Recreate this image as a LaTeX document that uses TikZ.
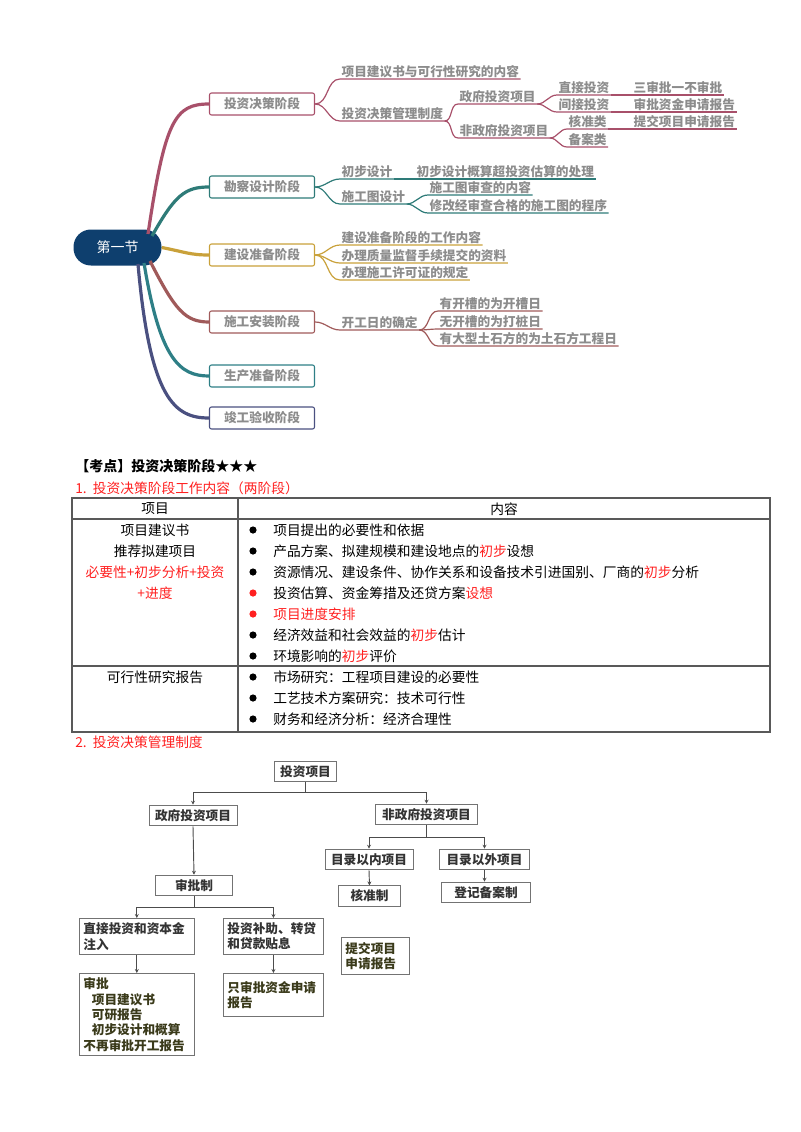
\documentclass[tikz,border=0pt]{standalone}
\usepackage{fontspec}
\setmainfont{Noto Sans CJK SC}
\usetikzlibrary{arrows.meta}
\definecolor{cA}{HTML}{A8506A}
\definecolor{cB}{HTML}{2E7B78}
\definecolor{cC}{HTML}{C9A13A}
\definecolor{cD}{HTML}{A05A5A}
\definecolor{cE}{HTML}{2E7F86}
\definecolor{cF}{HTML}{4A5080}
\definecolor{root}{HTML}{0E3F6E}
\definecolor{gt}{HTML}{8C8C8C}
\definecolor{rd}{HTML}{FF2020}
\definecolor{ol}{HTML}{3A3A1A}
\newcommand{\mmf}{\fontsize{9.5}{11}\selectfont\bfseries}
\newcommand{\tbf}{\fontsize{10.3}{12}\selectfont}
\begin{document}
\begin{tikzpicture}[x=0.75pt,y=-0.75pt,
 stage/.style={draw=#1,fill=white,rounded corners=1.5pt,minimum width=78.75pt,minimum height=16.5pt,font=\mmf,text=gt,line width=0.8pt},
 leaf/.style={font=\mmf,text=gt,inner sep=1pt,anchor=south west},
 br/.style={draw=#1,line width=0.9pt},
 main/.style={draw=#1,line width=2.4pt},
 fb/.style={draw=black!55,fill=white,font=\fontsize{9.5}{11.5}\selectfont\bfseries,text=black!80,line width=0.7pt,inner sep=3pt},
 fl/.style={fb,align=left,anchor=north west,text width=#1,minimum height=27pt},
 ar/.style={draw=black!70,line width=0.7pt,-{Stealth[length=3pt,width=3pt]}},
 tl/.style={font=\tbf,anchor=west,inner sep=0pt}]
\path[use as bounding box] (0,0) rectangle (800,1132);
% ---------- mind map ----------
\node[fill=root,rounded corners=13pt,minimum width=66pt,minimum height=27pt,inner sep=0pt,text=white,font=\fontsize{10.5}{12}\selectfont] (r) at (117.5,247.5) {第一节};
\node[stage=cA] (b1) at (262,104) {投资决策阶段};
\node[stage=cB] (b2) at (262,187) {勘察设计阶段};
\node[stage=cC] (b3) at (262,255) {建设准备阶段};
\node[stage=cD] (b4) at (262,322) {施工安装阶段};
\node[stage=cE] (b5) at (262,376) {生产准备阶段};
\node[stage=cF] (b6) at (262,418) {竣工验收阶段};
\draw[main=cA] (148,234) .. controls (165,120) and (175,104) .. (b1.west);
\draw[main=cB] (152,236) .. controls (175,195) and (185,187) .. (b2.west);
\draw[main=cC] (r.east) .. controls (185,252) and (190,255) .. (b3.west);
\draw[main=cD] (150,261) .. controls (175,310) and (185,322) .. (b4.west);
\draw[main=cE] (144,263) .. controls (160,360) and (180,376) .. (b5.west);
\draw[main=cF] (138,264) .. controls (150,400) and (175,418) .. (b6.west);
% branch 1
\node[leaf] (n11) at (340,79) {项目建议书与可行性研究的内容};
\node[leaf] (n12) at (340,121) {投资决策管理制度};
\node[leaf] (n121) at (458,104) {政府投资项目};
\node[leaf] (n122) at (458,138) {非政府投资项目};
\node[leaf] (n1) at (557,95) {直接投资};
\node[leaf] (n1x) at (632,95) {三审批一不审批};
\node[leaf] (n2) at (557,112) {间接投资};
\node[leaf] (n2x) at (632,112) {审批资金申请报告};
\node[leaf] (n3) at (567,129) {核准类};
\node[leaf] (n3x) at (632,129) {提交项目申请报告};
\node[leaf] (n4) at (567,147) {备案类};
\foreach \a/\b in {b1.east/n11,b1.east/n12,n12.south east/n121,n12.south east/n122,n121.south east/n1,n121.south east/n2,n122.south east/n3,n122.south east/n4}
  \draw[br=cA] (\a) to[out=0,in=180] (\b.south west) -- (\b.south east);
\foreach \a/\b in {n1/n1x,n2/n2x,n3/n3x}
  \draw[br=cA] (\a.south east) -- (\b.south west) -- (\b.south east);
% branch 2
\node[leaf] (m1) at (340,179) {初步设计};
\node[leaf] (m1x) at (415,179) {初步设计概算超投资估算的处理};
\node[leaf] (m2) at (340,204) {施工图设计};
\node[leaf] (m21) at (428,195) {施工图审查的内容};
\node[leaf] (m22) at (428,213) {修改经审查合格的施工图的程序};
\foreach \a/\b in {b2.east/m1,b2.east/m2,m2.south east/m21,m2.south east/m22}
  \draw[br=cB] (\a) to[out=0,in=180] (\b.south west) -- (\b.south east);
\draw[br=cB] (m1.south east) -- (m1x.south west) -- (m1x.south east);
% branch 3
\node[leaf] (k1) at (340,245) {建设准备阶段的工作内容};
\node[leaf] (k2) at (340,263) {办理质量监督手续提交的资料};
\node[leaf] (k3) at (340,280) {办理施工许可证的规定};
\foreach \b in {k1,k2,k3}
  \draw[br=cC] (b3.east) to[out=0,in=180] (\b.south west) -- (\b.south east);
% branch 4
\node[leaf] (j) at (340,330) {开工日的确定};
\node[leaf] (j1) at (438,311) {有开槽的为开槽日};
\node[leaf] (j2) at (438,329) {无开槽的为打桩日};
\node[leaf] (j3) at (438,346) {有大型土石方的为土石方工程日};
\draw[br=cD] (b4.east) to[out=0,in=180] (j.south west) -- (j.south east);
\foreach \b in {j1,j2,j3}
  \draw[br=cD] (j.south east) to[out=0,in=180] (\b.south west) -- (\b.south east);
% ---------- headings ----------
\node[anchor=west,inner sep=0pt,font=\fontsize{10.5}{12}\selectfont\bfseries] (h1) at (75,466) {【考点】投资决策阶段★★★};
\node[anchor=west,inner sep=0pt,font=\tbf,text=rd] (h2) at (75,488) {1.\ \ 投资决策阶段工作内容（两阶段）};
% ---------- table ----------
\draw[black!65,line width=0.8pt] (72,498) rectangle (770,732);
\draw[black!65,line width=0.8pt] (72,519) -- (770,519) (72,666) -- (770,666) (238,498) -- (238,732);
\node[font=\tbf] (t0) at (155,509) {项目};
\node[font=\tbf] (t1) at (504,509) {内容};
\node[font=\tbf] (l1) at (155,530) {项目建议书};
\node[font=\tbf] (l2) at (155,551) {推荐拟建项目};
\node[font=\tbf,text=rd] (l3) at (155,572) {必要性+初步分析+投资};
\node[font=\tbf,text=rd] (l4) at (155,593) {+进度};
\node[font=\tbf] (l5) at (155,677) {可行性研究报告};
\foreach \y/\c/\t [count=\i] in {
 530/black/{项目提出的必要性和依据},
 551/black/{产品方案、拟建规模和建设地点的\textcolor{rd}{初步}设想},
 572/black/{资源情况、建设条件、协作关系和设备技术引进国别、厂商的\textcolor{rd}{初步}分析},
 593/rd/{投资估算、资金筹措及还贷方案\textcolor{rd}{设想}},
 614/rd/{\textcolor{rd}{项目进度安排}},
 635/black/{经济效益和社会效益的\textcolor{rd}{初步}估计},
 656/black/{环境影响的\textcolor{rd}{初步}评价},
 677/black/{市场研究：工程项目建设的必要性},
 698/black/{工艺技术方案研究：技术可行性},
 719/black/{财务和经济分析：经济合理性}}
{
 \fill[\c] (253,\y) circle (3.6);
 \node[tl] (r\i) at (273,\y) {\t};
}
\node[anchor=west,inner sep=0pt,font=\tbf,text=rd] (h3) at (75,742) {2.\ \ 投资决策管理制度};
% ---------- flowchart ----------
\node[fb,minimum width=47pt,minimum height=15.5pt] (f0) at (305.5,771.5) {投资项目};
\node[fb,minimum width=66pt,minimum height=15.5pt] (f1) at (193,815.5) {政府投资项目};
\node[fb,minimum width=76pt,minimum height=15.5pt] (f2) at (426.5,814.5) {非政府投资项目};
\node[fb,minimum width=66pt,minimum height=15.5pt] (f21) at (369,859.5) {目录以内项目};
\node[fb,minimum width=67pt,minimum height=15.5pt] (f22) at (484.5,859.5) {目录以外项目};
\node[fb,minimum width=46pt,minimum height=15pt] (f211) at (369.5,896) {核准制};
\node[fb,minimum width=67pt,minimum height=15.5pt] (f221) at (486,892.5) {登记备案制};
\node[fb,minimum width=58pt,minimum height=15.5pt] (f11) at (194,885.5) {审批制};
\node[fl=80pt] (f111) at (79,918) {直接投资和资本金\\注入};
\node[fl=69pt] (f112) at (223,918) {投资补助、转贷\\和贷款贴息};
\node[fl=80pt,text=ol,minimum height=61.5pt] (f1111) at (79,973) {审批\\\ \ 项目建议书\\\ \ 可研报告\\\ \ 初步设计和概算\\不再审批开工报告};
\node[fl=69pt,text=ol,minimum height=32pt] (f1121) at (223,973) {只审批资金申请\\报告};
\node[fl=45pt,text=ol,minimum height=27.5pt] (f3) at (341,937) {提交项目\\申请报告};
\draw[ar] (f0.south) -- ++(0,10) -| (f1.north);
\draw[ar] (f0.south) -- ++(0,10) -| (f2.north);
\draw[ar] (f2.south) -- ++(0,12) -| (f21.north);
\draw[ar] (f2.south) -- ++(0,12) -| (f22.north);
\draw[ar] (f21.south) -- (f211.north);
\draw[ar] (f22.south) -- (f221.north -| f22.south);
\draw[ar] (f1.south) -- (f11.north);
\draw[ar] (f11.south) -- ++(0,11) -| (f111.north);
\draw[ar] (f11.south) -- ++(0,11) -| (f112.north);
\draw[ar] (f111.south) -- (f1111.north);
\draw[ar] (f112.south) -- (f1121.north);
\end{tikzpicture}
\end{document}
